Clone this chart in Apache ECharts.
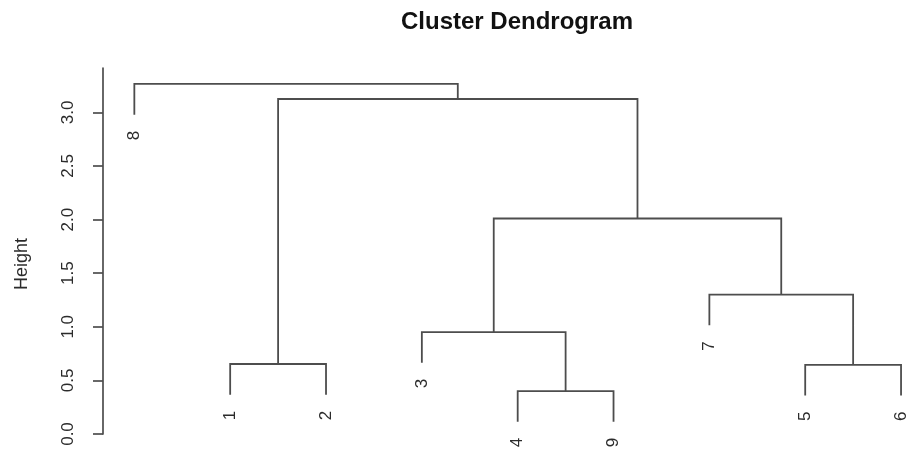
<!DOCTYPE html>
<html>
<head>
<meta charset="utf-8">
<script src="https://cdn.jsdelivr.net/npm/echarts@6/dist/echarts.min.js"></script>
<style>html,body{margin:0;padding:0;background:#fff}#c{width:909px;height:452px}</style>
</head>
<body>
<div id="c"></div>
<script>
// ---- data (hclust-style) ----
const title = 'Cluster Dendrogram';
const yName = 'Height';
const leafOrder = [8, 1, 2, 3, 4, 9, 7, 5, 6];          // left-to-right order of observations
const mergeA = [-4, -5, -1, -3, -7, 4, 3, -8];             // negative = observation, positive = earlier merge step
const mergeB = [-9, -6, -2, 1, 2, 5, 6, 7];
const mergeHeight = [0.40, 0.645, 0.653, 0.95, 1.30, 2.01, 3.125, 3.265];
const yTicks = [0, 0.5, 1.0, 1.5, 2.0, 2.5, 3.0];

// ---- build dendrogram geometry from the merge table ----
const hang = 0.1 * (Math.max(...mergeHeight) - Math.min(...mergeHeight));
const leafX = {};
leafOrder.forEach((obs, i) => { leafX[obs] = i + 1; });
const nodeX = [];
const links = [];
const leaves = [];
function childInfo(c, parentH) {
  if (c < 0) {
    const obs = -c;
    const yEnd = parentH - hang;
    leaves.push([leafX[obs], yEnd, String(obs)]);
    return { x: leafX[obs], y: yEnd };
  }
  return { x: nodeX[c - 1], y: mergeHeight[c - 1] };
}
for (let k = 0; k < mergeHeight.length; k++) {
  const h = mergeHeight[k];
  const a = childInfo(mergeA[k], h);
  const b = childInfo(mergeB[k], h);
  nodeX[k] = (a.x + b.x) / 2;
  const L = a.x <= b.x ? a : b, R = a.x <= b.x ? b : a;
  links.push([L.x, L.y, R.x, R.y, h]);
}

const chart = echarts.init(document.getElementById('c'), null, { renderer: 'canvas' });
const lineColor = '#4d4d4d';
const font = '"Liberation Sans", Arial, sans-serif';
chart.setOption({
  animation: false,
  backgroundColor: '#fff',
  grid: { left: 103, right: 0, top: 68, bottom: 18, containLabel: false },
  xAxis: { type: 'value', min: 0.673, max: 9.083, show: false },
  yAxis: {
    type: 'value', min: 0, max: 3.414,
    axisLine: { show: true, onZero: false, lineStyle: { color: lineColor, width: 1.7 } },
    axisTick: { show: true, length: 10, customValues: yTicks, lineStyle: { color: lineColor, width: 1.7 } },
    axisLabel: {
      show: true, customValues: yTicks, rotate: 90, margin: 26,
      formatter: v => Number(v).toFixed(1),
      fontFamily: font, fontSize: 17, color: '#2b2b2b'
    },
    splitLine: { show: false }
  },
  graphic: [
    { type: 'text', x: 517, y: 22, style: { text: title, font: 'bold 24px ' + font, fill: '#111', align: 'center', verticalAlign: 'middle' } },
    { type: 'text', x: 22, y: 264, rotation: Math.PI / 2, style: { text: yName, font: '18px ' + font, fill: '#2b2b2b', align: 'center', verticalAlign: 'middle' } }
  ],
  series: [
    {
      type: 'custom', clip: false, data: links,
      renderItem: function (params, api) {
        const p1 = api.coord([api.value(0), api.value(1)]);
        const p2 = api.coord([api.value(0), api.value(4)]);
        const p3 = api.coord([api.value(2), api.value(4)]);
        const p4 = api.coord([api.value(2), api.value(3)]);
        return { type: 'polyline', shape: { points: [p1, p2, p3, p4] }, style: { stroke: lineColor, lineWidth: 1.8, fill: null } };
      }
    },
    {
      type: 'custom', clip: false, data: leaves.map(l => [l[0], l[1]]),
      renderItem: function (params, api) {
        const p = api.coord([api.value(0), api.value(1)]);
        return {
          type: 'text', x: p[0], y: p[1] + 16, rotation: Math.PI / 2,
          style: { text: leaves[params.dataIndex][2], font: '17px ' + font, fill: '#2b2b2b', align: 'right', verticalAlign: 'middle' }
        };
      }
    }
  ]
});
</script>
</body>
</html>
